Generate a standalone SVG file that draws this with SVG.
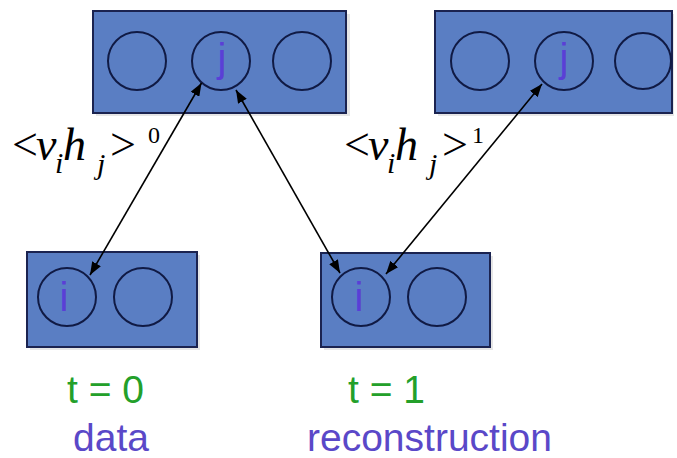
<svg xmlns="http://www.w3.org/2000/svg" width="677" height="458" viewBox="0 0 677 458">
<style>
.box{fill:#5a7ec3;stroke:#1b2350;stroke-width:2}
.shadow{fill:#e6e6e6}
.unit{fill:none;stroke:#101a44;stroke-width:2}
.lbl{font-family:"Liberation Sans",Arial,sans-serif;font-size:40px;fill:#5a3fd6;text-anchor:middle}
.math{font-family:"Liberation Serif","Times New Roman",serif;fill:#000}
.it{font-style:italic}
.green{font-family:"Liberation Sans",Arial,sans-serif;font-size:39px;fill:#23a02a}
.purple{font-family:"Liberation Sans",Arial,sans-serif;font-size:39px;fill:#5a48c8}
.conn{stroke:#000;stroke-width:1.6;fill:none;marker-start:url(#ah);marker-end:url(#ah)}
</style>
<defs>
<marker id="ah" viewBox="0 0 13 10" refX="13" refY="5" markerWidth="13" markerHeight="10" markerUnits="userSpaceOnUse" orient="auto-start-reverse">
<path d="M0,0 L13,5 L0,10 z" fill="#000"/>
</marker>
</defs>
<rect width="677" height="458" fill="#fff"/>

<g id="hidden0">
<rect class="shadow" x="96" y="14" width="254" height="102"/>
<rect class="box" x="93" y="11" width="253" height="102"/>
<circle class="unit" cx="137" cy="61" r="29"/>
<circle class="unit" cx="221" cy="61" r="29"/>
<circle class="unit" cx="302" cy="61" r="29"/>
<text class="lbl" x="222" y="72">j</text>
</g>

<g id="hidden1">
<rect class="shadow" x="438" y="14" width="236" height="102"/>
<rect class="box" x="435" y="11" width="237" height="102"/>
<circle class="unit" cx="480" cy="61" r="29"/>
<circle class="unit" cx="564" cy="61" r="29"/>
<circle class="unit" cx="643" cy="61" r="28"/>
<text class="lbl" x="564" y="72">j</text>
</g>

<g id="visible0">
<rect class="shadow" x="30" y="255" width="170" height="95"/>
<rect class="box" x="27" y="252" width="170" height="95"/>
<circle class="unit" cx="67" cy="297" r="29"/>
<circle class="unit" cx="143" cy="297" r="29"/>
<text class="lbl" x="64" y="311">i</text>
</g>

<g id="visible1">
<rect class="shadow" x="324" y="256" width="169" height="94"/>
<rect class="box" x="321" y="253" width="169" height="94"/>
<circle class="unit" cx="361" cy="297" r="29"/>
<circle class="unit" cx="437" cy="297" r="29"/>
<text class="lbl" x="359" y="311">i</text>
</g>

<g id="connectors">
<line class="conn" x1="201.5" y1="83" x2="90" y2="275"/>
<line class="conn" x1="236" y1="90" x2="340" y2="273"/>
<line class="conn" x1="542" y1="84" x2="386" y2="274"/>
</g>

<g id="label0">
<text class="math" font-size="46"><tspan x="12" y="160">&lt;</tspan><tspan class="it" x="36" y="160">v</tspan><tspan class="it" x="55" y="173" font-size="30">i</tspan><tspan class="it" x="63" y="160">h</tspan><tspan class="it" x="97" y="174" font-size="30">j</tspan><tspan x="110" y="160">&gt;</tspan><tspan x="148" y="143" font-size="24">0</tspan></text>
</g>
<g id="label1">
<text class="math" font-size="46"><tspan x="344" y="160">&lt;</tspan><tspan class="it" x="368" y="160">v</tspan><tspan class="it" x="387" y="173" font-size="30">i</tspan><tspan class="it" x="395" y="160">h</tspan><tspan class="it" x="429" y="174" font-size="30">j</tspan><tspan x="442" y="160">&gt;</tspan><tspan x="472" y="143" font-size="24">1</tspan></text>
</g>

<g id="caption0">
<text class="green" x="67" y="403">t = 0</text>
<text class="purple" x="73" y="451">data</text>
</g>
<g id="caption1">
<text class="green" x="348" y="403">t = 1</text>
<text class="purple" x="307" y="451">reconstruction</text>
</g>
</svg>
